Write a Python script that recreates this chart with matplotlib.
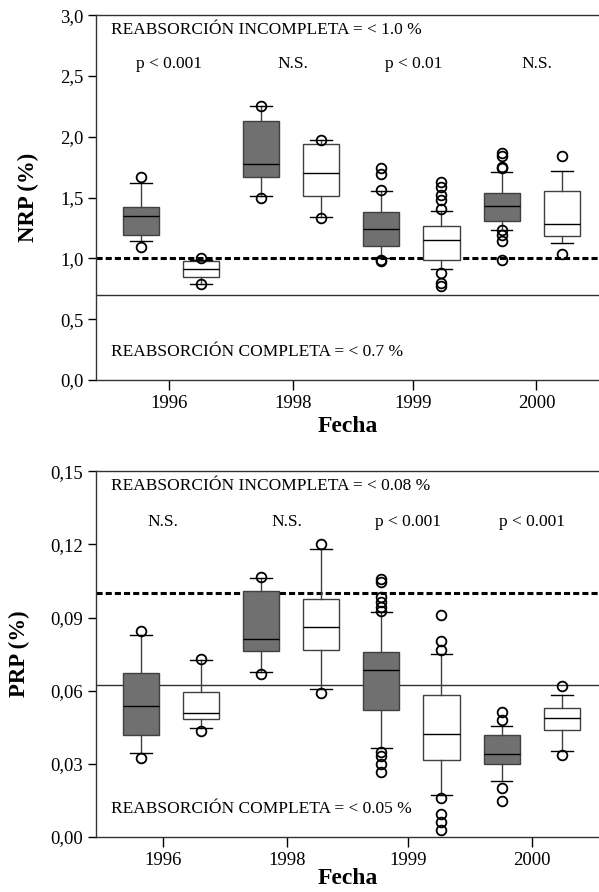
import matplotlib.pyplot as plt

plt.rcParams['font.family'] = ['Liberation Serif', 'DejaVu Serif']

# box positions (grey = first, white = second of each year)
positions = [1, 2, 3, 4, 5, 6, 7, 8]
box_colors = ['#707070', 'white'] * 4
years = ['1996', '1998', '1999', '2000']

# --- NRP (%) ---
nrp_q1 = [1.19, 0.85, 1.67, 1.51, 1.10, 0.99, 1.31, 1.18]
nrp_med = [1.35, 0.91, 1.78, 1.70, 1.24, 1.15, 1.43, 1.28]
nrp_q3 = [1.42, 0.98, 2.13, 1.94, 1.38, 1.27, 1.54, 1.55]
nrp_lo = [1.14, 0.79, 1.51, 1.34, 1.00, 0.91, 1.23, 1.13]
nrp_hi = [1.62, 0.99, 2.25, 1.97, 1.55, 1.39, 1.71, 1.72]
nrp_fliers = [
    [1.67, 1.09],
    [1.00, 0.79],
    [2.25, 1.50],
    [1.97, 1.33],
    [1.74, 1.69, 1.56, 0.99, 0.98],
    [1.63, 1.59, 1.52, 1.48, 1.41, 0.88, 0.80, 0.77],
    [1.87, 1.84, 1.75, 1.74, 1.23, 1.19, 1.14, 0.99],
    [1.84, 1.04],
]
nrp_pvals = ['p < 0.001', 'N.S.', 'p < 0.01', 'N.S.']
nrp_ticks = [1.47, 3.53, 5.53, 7.58]

# --- PRP (%) ---
prp_q1 = [0.0419, 0.0482, 0.0762, 0.0768, 0.0519, 0.0314, 0.0298, 0.0440]
prp_med = [0.0538, 0.0508, 0.0813, 0.0861, 0.0683, 0.0424, 0.0339, 0.0488]
prp_q3 = [0.0673, 0.0594, 0.1008, 0.0974, 0.0758, 0.0582, 0.0417, 0.0529]
prp_lo = [0.0344, 0.0447, 0.0676, 0.0605, 0.0366, 0.0173, 0.0228, 0.0351]
prp_hi = [0.0829, 0.0725, 0.1064, 0.1180, 0.0922, 0.0749, 0.0454, 0.0582]
prp_fliers = [
    [0.0846, 0.0325],
    [0.0728, 0.0433],
    [0.1068, 0.0669],
    [0.1200, 0.0592],
    [0.1059, 0.1045, 0.0984, 0.0963, 0.0943, 0.0926,
     0.0348, 0.0331, 0.0301, 0.0266],
    [0.0911, 0.0803, 0.0765, 0.0161, 0.0096, 0.0061, 0.0027],
    [0.0514, 0.0478, 0.0201, 0.0148],
    [0.0619, 0.0337],
]
prp_pvals = ['N.S.', 'N.S.', 'p < 0.001', 'p < 0.001']
prp_ticks = [1.37, 3.43, 5.45, 7.50]


def make_stats(q1, med, q3, lo, hi, fliers):
    stats = []
    for i in range(len(q1)):
        stats.append({'q1': q1[i], 'med': med[i], 'q3': q3[i],
                      'whislo': lo[i], 'whishi': hi[i],
                      'fliers': fliers[i]})
    return stats


def draw_panel(ax, stats, ticks, pvals, ylim, yticks, ylabel,
               dash_y, solid_y, top_text, bottom_text, pval_y, yfmt,
               xlabelpad):
    bp = ax.bxp(stats, positions=positions, widths=0.6, patch_artist=True,
                showfliers=True,
                boxprops=dict(edgecolor='#404040', linewidth=1.0),
                medianprops=dict(color='black', linewidth=1.0),
                whiskerprops=dict(color='#404040', linewidth=1.0),
                capprops=dict(color='black', linewidth=1.0),
                capwidths=0.36,
                flierprops=dict(marker='o', markerfacecolor='none',
                                markeredgecolor='black', markersize=7,
                                markeredgewidth=1.3))
    for patch, c in zip(bp['boxes'], box_colors):
        patch.set_facecolor(c)
    ax.axhline(dash_y, color='black', linewidth=2.2, linestyle=(0, (2, 1)),
               zorder=1)
    ax.axhline(solid_y, color='#303030', linewidth=1.0, zorder=1)

    ax.set_xlim(0.25, 8.62)
    ax.set_ylim(*ylim)
    ax.set_yticks(yticks)
    ax.set_yticklabels([yfmt.format(v).replace('.', ',') for v in yticks],
                       fontsize=13.5)
    ax.set_xticks(ticks)
    ax.set_xticklabels(years, fontsize=13.5)
    ax.tick_params(axis='x', direction='out', length=7, width=1, pad=4)
    ax.tick_params(axis='y', direction='out', length=6, width=1, pad=3)
    ax.spines['right'].set_visible(False)
    for s in ['left', 'top', 'bottom']:
        ax.spines[s].set_linewidth(1.0)
        ax.spines[s].set_color('#333333')

    ax.set_ylabel(ylabel, fontsize=16.5, fontweight='bold', labelpad=15)
    ax.set_xlabel('Fecha', fontsize=17, fontweight='bold',
                  labelpad=xlabelpad)

    ax.text(0.03, 0.96, top_text, transform=ax.transAxes, fontsize=12.5,
            ha='left', va='center')
    ax.text(0.03, 0.077, bottom_text, transform=ax.transAxes, fontsize=12.5,
            ha='left', va='center')
    for t, p in zip(ticks, pvals):
        ax.text(t, pval_y, p, fontsize=12.5, ha='center', va='center')


fig = plt.figure(figsize=(5.99, 8.92), dpi=100)
ax1 = fig.add_axes([0.160, 0.574, 0.840, 0.409])
ax2 = fig.add_axes([0.160, 0.0617, 0.840, 0.410])

draw_panel(ax1, make_stats(nrp_q1, nrp_med, nrp_q3, nrp_lo, nrp_hi,
                           nrp_fliers),
           nrp_ticks, nrp_pvals, (0, 3.0),
           [0, 0.5, 1.0, 1.5, 2.0, 2.5, 3.0], 'NRP (%)', 1.0, 0.7,
           'REABSORCIÓN INCOMPLETA = < 1.0 %',
           'REABSORCIÓN COMPLETA = < 0.7 %', 2.6, '{:.1f}', 3)
draw_panel(ax2, make_stats(prp_q1, prp_med, prp_q3, prp_lo, prp_hi,
                           prp_fliers),
           prp_ticks, prp_pvals, (0, 0.15),
           [0, 0.03, 0.06, 0.09, 0.12, 0.15], 'PRP (%)', 0.1, 0.0625,
           'REABSORCIÓN INCOMPLETA = < 0.08 %',
           'REABSORCIÓN COMPLETA = < 0.05 %', 0.129, '{:.2f}', -1)

fig.savefig('out.png', dpi=100)
